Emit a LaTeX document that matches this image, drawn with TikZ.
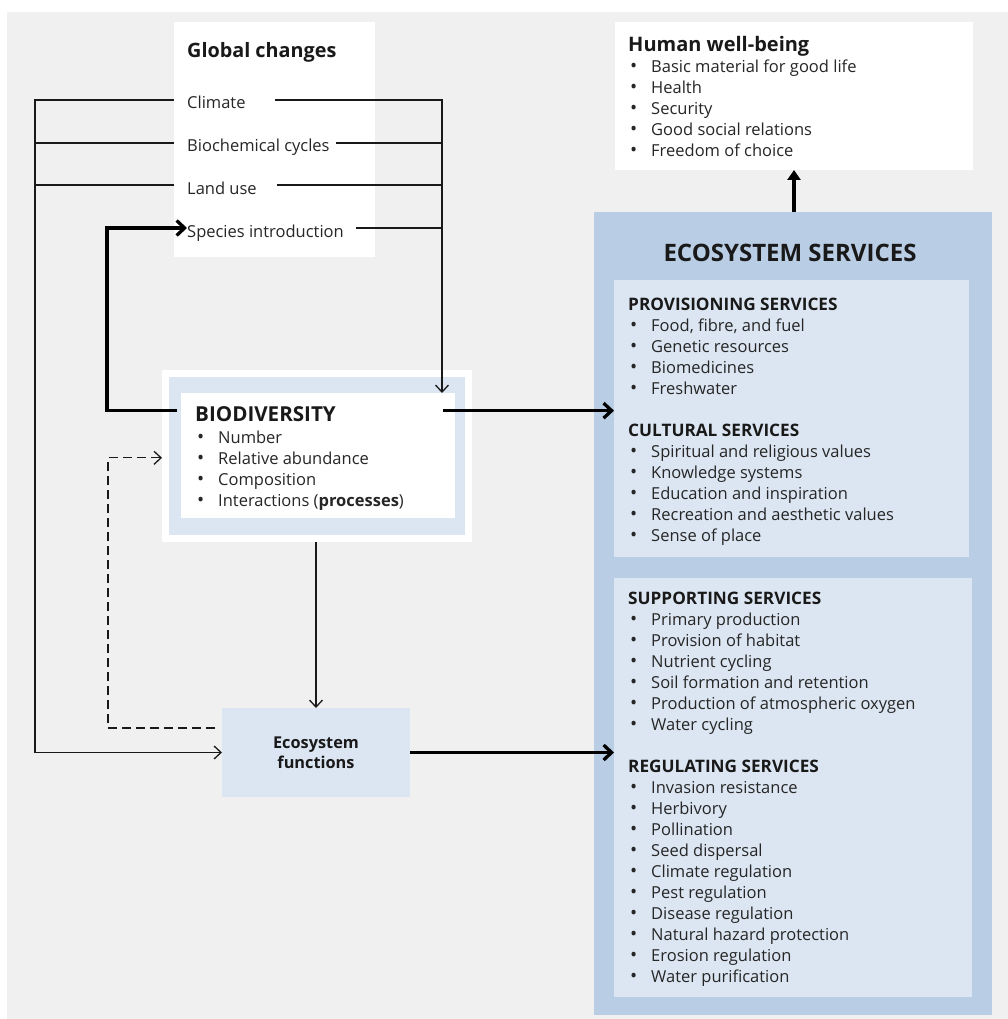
\documentclass[tikz,border=0pt]{standalone}
\usepackage{fontspec}
\setmainfont{Open Sans}
\usetikzlibrary{arrows.meta}
\definecolor{bg}{HTML}{F0F0F0}
\definecolor{lblue}{HTML}{DCE6F2}
\definecolor{mblue}{HTML}{B9CDE5}
\definecolor{txt}{HTML}{262626}
\newcommand\blist[4]{%
  \foreach \t [count=\i] in {#4}{\node[bitem] (#1\i) at (#2,{#3+21*(\i-1)}) {\t};}}
\tikzset{
  box/.style={anchor=north west, inner sep=0pt, outer sep=0pt, draw=none},
  item/.style={anchor=base west, inner sep=0pt, font=\fontsize{16.5}{21}\selectfont, text=txt},
  bitem/.style={item, execute at begin node={\llap{{\fontsize{19}{21}\selectfont\textbullet}\hspace{14pt}}}},
  gitem/.style={item, text height=18pt, text depth=0pt},
  head/.style={anchor=base west, inner sep=0pt, font=\bfseries\fontsize{17.2}{21}\selectfont, text=black!90},
  ln/.style={line width=1.3pt, draw=black!90},
  thinarrow/.style={ln, -{Straight Barb[length=7pt,width=13pt]}},
  dasharrow/.style={thinarrow, dash pattern=on 9pt off 5pt},
  thk/.style={line width=3.3pt, draw=black, -{Straight Barb[length=8pt,width=15pt]}},
  thkup/.style={line width=3.3pt, draw=black, -{Triangle[length=10pt,width=13pt]}},
}
\begin{document}
\begin{tikzpicture}[x=1pt,y=-1pt]
\useasboundingbox (0,0) rectangle (1008,1019);
\fill[bg] (7,12) rectangle (1008,1019);

% ---- boxes
\node[box, fill=white, minimum width=201pt, minimum height=235pt] (gcbox) at (174,22) {};
\node[box, fill=white, minimum width=310pt, minimum height=172pt] (bioout) at (162,370) {};
\node[box, fill=lblue, minimum width=296pt, minimum height=158pt] (biomid) at (169,377) {};
\node[box, fill=white, minimum width=274pt, minimum height=125pt] (bioin) at (181,393) {};
\node[box, fill=lblue, minimum width=188pt, minimum height=89pt, align=center,
      font=\bfseries\fontsize{16.3}{20}\selectfont, text=black!90] (ef) at (222,708) {Ecosystem\\functions};
\node[box, fill=white, minimum width=358pt, minimum height=148pt] (hwb) at (615,22) {};
\node[box, fill=mblue, minimum width=398pt, minimum height=803pt] (es) at (594,212) {};
\node[box, fill=lblue, minimum width=355pt, minimum height=277pt] (es1) at (614,280) {};
\node[box, fill=lblue, minimum width=358pt, minimum height=419pt] (es2) at (614,578) {};

% ---- global changes
\node[head, font=\bfseries\fontsize{19.8}{22}\selectfont] (gctitle) at (187,58) {Global changes};
\node[gitem] (climate) at (187,109) {Climate};
\node[gitem] (biochem) at (187,152) {Biochemical cycles};
\node[gitem] (landuse) at (187,194) {Land use};
\node[gitem] (species) at (187,237) {Species introduction};

% ---- biodiversity
\node[head, font=\bfseries\fontsize{20.6}{24}\selectfont] (biotitle) at (195,421) {BIODIVERSITY};
\blist{bio}{218}{443}{Number,Relative abundance,Composition,{Interactions (\textbf{processes})}}

% ---- human well-being
\node[head, font=\bfseries\fontsize{20}{22}\selectfont] (hwbtitle) at (628,52) {Human well-being};
\blist{hw}{651}{73}{Basic material for good life,Health,Security,Good social relations,Freedom of choice}

% ---- ecosystem services
\node[anchor=base, inner sep=0pt, font=\bfseries\fontsize{24}{28}\selectfont, text=black!90] (estitle) at (790,261) {ECOSYSTEM SERVICES};
\node[head] (provh) at (628,310) {PROVISIONING SERVICES};
\blist{prov}{651}{331}{{Food, fibre, and fuel},Genetic resources,Biomedicines,Freshwater}
\node[head] (culth) at (628,436) {CULTURAL SERVICES};
\blist{cult}{651}{457}{Spiritual and religious values,Knowledge systems,Education and inspiration,Recreation and aesthetic values,Sense of place}
\node[head] (supph) at (628,604) {SUPPORTING SERVICES};
\blist{supp}{651}{625}{Primary production,Provision of habitat,Nutrient cycling,Soil formation and retention,Production of atmospheric oxygen,Water cycling}
\node[head] (regh) at (628,772) {REGULATING SERVICES};
\blist{reg}{651}{793}{Invasion resistance,Herbivory,Pollination,Seed dispersal,Climate regulation,Pest regulation,Disease regulation,Natural hazard protection,Erosion regulation,Water purification}

% ---- bus coordinates
\coordinate (lbus) at (35,0);
\coordinate (rbus) at (442,0);
\coordinate (tbus) at (107,0);
\coordinate (dbus) at (108,0);

% ---- connectors
\draw[thinarrow] (gcbox.west |- climate) -- (lbus |- climate) -- (lbus |- ef) -- (ef.west);
\draw[ln] (gcbox.west |- biochem) -- (lbus |- biochem);
\draw[ln] (gcbox.west |- landuse) -- (lbus |- landuse);

\draw[thinarrow] ([xshift=29pt]climate.east) -- (rbus |- climate) -- (rbus |- bioin.north);
\draw[ln] ([xshift=6pt]biochem.east) -- (rbus |- biochem);
\draw[ln] ([xshift=20pt]landuse.east) -- (rbus |- landuse);
\draw[ln] ([xshift=12pt]species.east) -- (rbus |- species);

\draw[thk] ([xshift=-4pt,yshift=3pt]bioin.west |- biotitle) -| (tbus |- species) -- (species.west);
\draw[thk] ([xshift=-12pt,yshift=3pt]bioin.east |- biotitle) -- ([yshift=3pt]es1.west |- biotitle);
\draw[thinarrow] (bioout.south -| ef.north) -- (ef.north);
\draw[dasharrow] ([xshift=-7pt,yshift=-20pt]ef.north west) -| (dbus |- bio2) -- (bioout.west |- bio2);
\draw[thk] (ef.east) -- (es2.west |- ef.east);
\draw[thkup] (es.north -| hwb.south) -- (hwb.south);
\end{tikzpicture}
\end{document}
